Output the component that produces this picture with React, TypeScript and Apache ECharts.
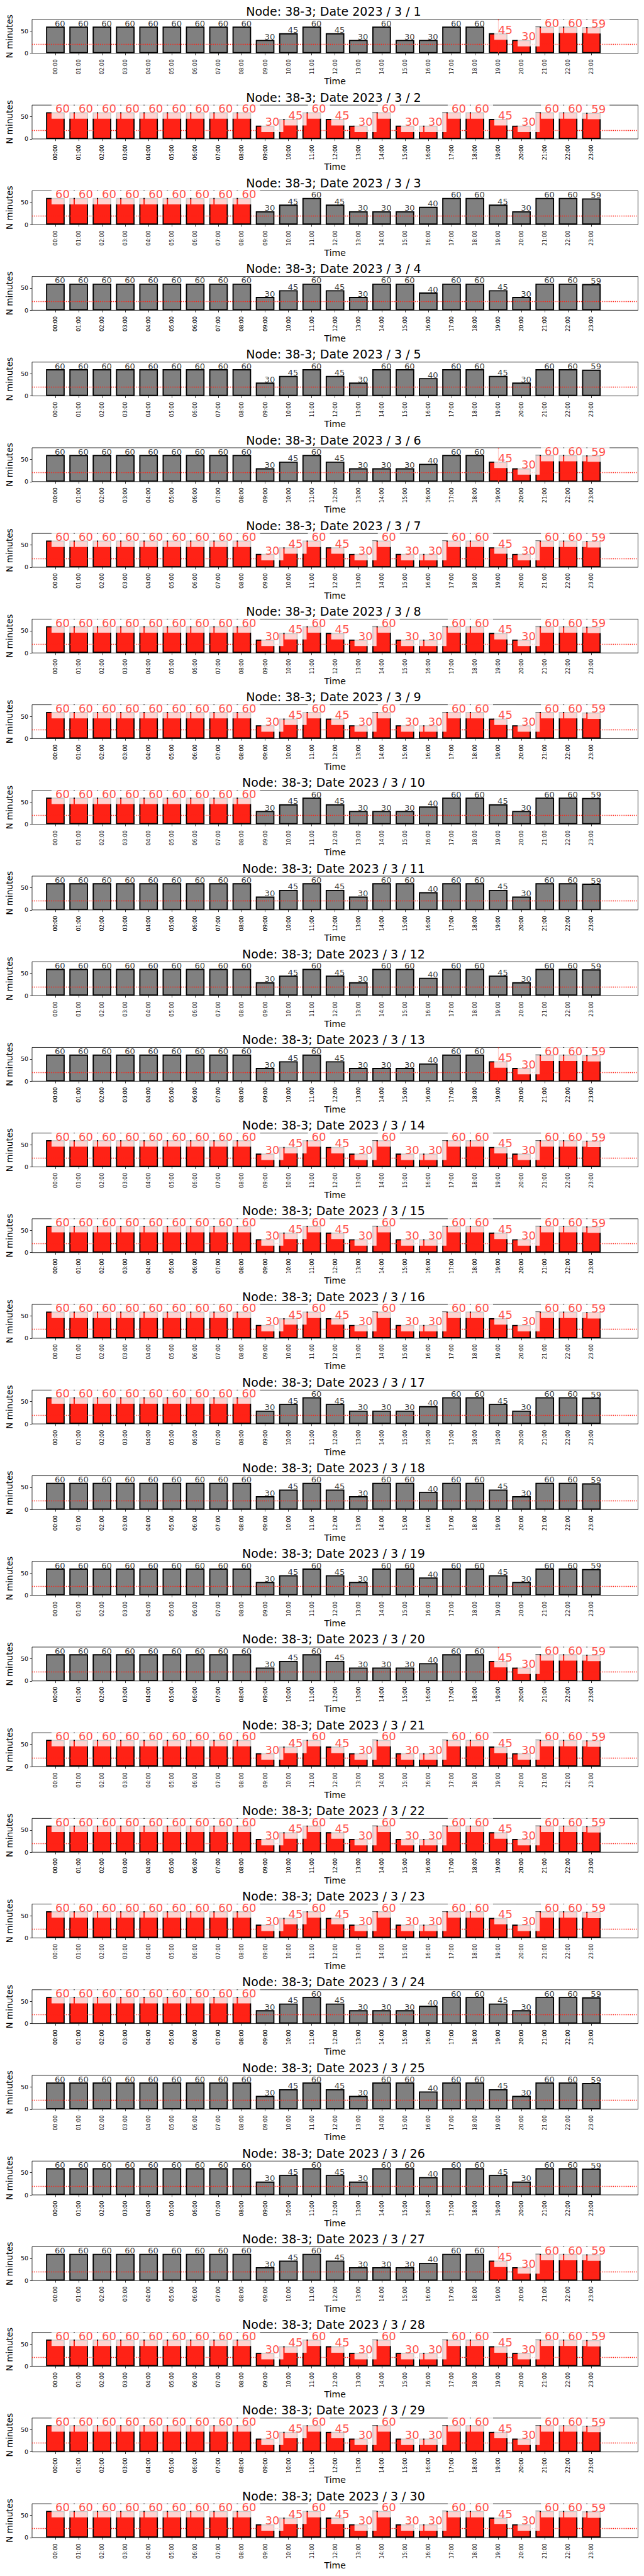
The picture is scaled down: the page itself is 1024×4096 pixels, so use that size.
import React, { useEffect, useRef } from 'react';
import * as echarts from 'echarts';

// ---------------- data ----------------
const hours = [
  '00:00', '01:00', '02:00', '03:00', '04:00', '05:00', '06:00', '07:00',
  '08:00', '09:00', '10:00', '11:00', '12:00', '13:00', '14:00', '15:00',
  '16:00', '17:00', '18:00', '19:00', '20:00', '21:00', '22:00', '23:00',
];

// minutes per hour, three patterns that occur in the reference
const valuesA = [60, 60, 60, 60, 60, 60, 60, 60, 60, 30, 45, 60, 45, 30, 60, 60, 40, 60, 60, 45, 30, 60, 60, 59];
const valuesB = [60, 60, 60, 60, 60, 60, 60, 60, 60, 30, 45, 60, 45, 30, 60, 30, 30, 60, 60, 45, 30, 60, 60, 59];
const valuesC = [60, 60, 60, 60, 60, 60, 60, 60, 60, 30, 45, 60, 45, 30, 30, 30, 40, 60, 60, 45, 30, 60, 60, 59];

// which hours are highlighted red
const redNone = [0, 0, 0, 0, 0, 0, 0, 0, 0, 0, 0, 0, 0, 0, 0, 0, 0, 0, 0, 0, 0, 0, 0, 0];
const redAll = [1, 1, 1, 1, 1, 1, 1, 1, 1, 1, 1, 1, 1, 1, 1, 1, 1, 1, 1, 1, 1, 1, 1, 1];
const redHead = [1, 1, 1, 1, 1, 1, 1, 1, 1, 0, 0, 0, 0, 0, 0, 0, 0, 0, 0, 0, 0, 0, 0, 0];
const redTail = [0, 0, 0, 0, 0, 0, 0, 0, 0, 0, 0, 0, 0, 0, 0, 0, 0, 0, 0, 1, 1, 1, 1, 1];

const days = [1, 2, 3, 4, 5, 6, 7, 8, 9, 10, 11, 12, 13, 14, 15, 16, 17, 18, 19, 20, 21, 22, 23, 24, 25, 26, 27, 28, 29, 30];
const dayPattern = ['B', 'B', 'C', 'A', 'A', 'C', 'B', 'B', 'B', 'C', 'A', 'A', 'C', 'B', 'B', 'B', 'C', 'A', 'A', 'C', 'B', 'B', 'B', 'C', 'A', 'A', 'C', 'B', 'B', 'B'];
const dayRed = ['tail', 'all', 'head', 'none', 'none', 'tail', 'all', 'all', 'all', 'head', 'none', 'none', 'tail', 'all', 'all', 'all', 'head', 'none', 'none', 'tail', 'all', 'all', 'all', 'head', 'none', 'none', 'tail', 'all', 'all', 'all'];

const threshold = 20;
const markerHour = '19:00';
const markerDays = [1, 6, 13, 20, 27];
const yMax = 76;
const yTicks = [0, 50];

const patterns: Record<string, number[]> = { A: valuesA, B: valuesB, C: valuesC };
const redModes: Record<string, number[]> = { none: redNone, all: redAll, head: redHead, tail: redTail };

// ---------------- layout ----------------
const S = 1024 / 1500;
const W = 1024;
const H = 4096;
const FONT = 'DejaVu Sans';
const RED = '#ff2216';
const GREY = '#808080';
const gridLeft = 68 * S;
const gridW = (1486 - 68) * S;
const gridTop0 = 45.3 * S;
const gridH = 78.8 * S;
const period = 199.53 * S;
const titleTop0 = 8.95;
const centerX = ((68 + 1486) / 2) * S;

// axis spans x = -1 .. 25 in hour units: one empty slot before, two after
const cats = ['', ...hours, ' ', '  '];
const showIdx = (idx: number) => idx >= 1 && idx <= 24;
const catIndex = (h: number) => h + 1;

function buildOption() {
  const grid: any[] = [];
  const xAxis: any[] = [];
  const yAxis: any[] = [];
  const series: any[] = [];
  const title: any[] = [];

  days.forEach((d, i) => {
    const top = gridTop0 + i * period;
    const vals = patterns[dayPattern[i]];
    const reds = redModes[dayRed[i]];

    grid.push({
      left: gridLeft,
      top,
      width: gridW,
      height: gridH,
      show: true,
      borderColor: '#000',
      borderWidth: 0.8,
      backgroundColor: 'transparent',
    });

    title.push({
      text: `Node: 38-3; Date 2023 / 3 / ${d}`,
      left: centerX,
      top: titleTop0 + i * period,
      textAlign: 'center',
      padding: 0,
      textStyle: { fontFamily: FONT, fontSize: 19, fontWeight: 'normal', color: '#000' },
    });

    xAxis.push({
      gridIndex: i,
      type: 'category',
      data: cats,
      boundaryGap: false,
      axisLine: { show: false },
      axisTick: { show: true, length: 3.3, interval: showIdx, lineStyle: { color: '#000', width: 0.8 } },
      axisLabel: { interval: showIdx, rotate: 90, margin: 9.5, fontSize: 8.4, color: '#000', fontFamily: FONT },
      splitLine: { show: false },
      name: 'Time',
      nameLocation: 'middle',
      nameGap: 36,
      nameTextStyle: { fontFamily: FONT, fontSize: 14, color: '#000' },
    });

    yAxis.push({
      gridIndex: i,
      type: 'value',
      min: 0,
      max: yMax,
      interval: 50,
      axisLine: { show: false },
      axisTick: { show: true, length: 3.3, customValues: yTicks, lineStyle: { color: '#000', width: 0.8 } },
      axisLabel: { customValues: yTicks, margin: 6, fontSize: 9.5, color: '#000', fontFamily: FONT },
      splitLine: { show: false },
      name: 'N minutes',
      nameLocation: 'middle',
      nameGap: 23,
      nameTextStyle: { fontFamily: FONT, fontSize: 13.6, color: '#000' },
    });

    const markData: any[] = [{ yAxis: threshold }];
    if (markerDays.includes(d)) {
      markData.push({
        xAxis: catIndex(hours.indexOf(markerHour)),
        lineStyle: { type: 'solid', width: 1.4, color: RED },
      });
    }

    series.push({
      type: 'bar',
      xAxisIndex: i,
      yAxisIndex: i,
      z: 2,
      barWidth: '80%',
      silent: true,
      data: vals.map((v, h) => ({
        value: [catIndex(h), v],
        itemStyle: { color: reds[h] ? RED : GREY, borderColor: '#000', borderWidth: 1.85 },
      })),
      markLine: {
        silent: true,
        z: 3,
        symbol: 'none',
        label: { show: false },
        emphasis: { disabled: true },
        lineStyle: { color: RED, width: 1.4, type: [1.4, 1.6] },
        data: markData,
      },
    });

    series.push({
      type: 'scatter',
      xAxisIndex: i,
      yAxisIndex: i,
      z: 4,
      symbolSize: 1,
      silent: true,
      itemStyle: { color: 'rgba(0,0,0,0)' },
      label: {
        show: true,
        position: [0, 0],
        formatter: (p: any) => String(p.value[1]),
      },
      data: vals.map((v, h) => ({
        value: [catIndex(h), v],
        label: reds[h]
          ? {
              color: RED,
              fontFamily: FONT,
              fontSize: 18.1,
              align: 'left',
              verticalAlign: 'bottom',
              backgroundColor: '#ffffff',
              padding: [6, 6, 7, 6],
              offset: [-5.6, 10.8],
            }
          : {
              color: '#000',
              fontFamily: FONT,
              fontSize: 13.1,
              align: 'left',
              verticalAlign: 'bottom',
              offset: [-0.5, 2.0],
            },
      })),
    });
  });

  return {
    animation: false,
    backgroundColor: '#ffffff',
    textStyle: { fontFamily: FONT },
    title,
    grid,
    xAxis,
    yAxis,
    series,
  };
}

export default function App() {
  const ref = useRef<HTMLDivElement>(null);
  useEffect(() => {
    if (!ref.current) return;
    const chart = echarts.init(ref.current, undefined, { renderer: 'svg', width: W, height: H });
    chart.setOption(buildOption() as any);
    return () => {
      chart.dispose();
    };
  }, []);
  return (
    <div
      ref={ref}
      style={{ position: 'absolute', left: 0, top: 0, width: W, height: H, background: '#fff' }}
    />
  );
}
